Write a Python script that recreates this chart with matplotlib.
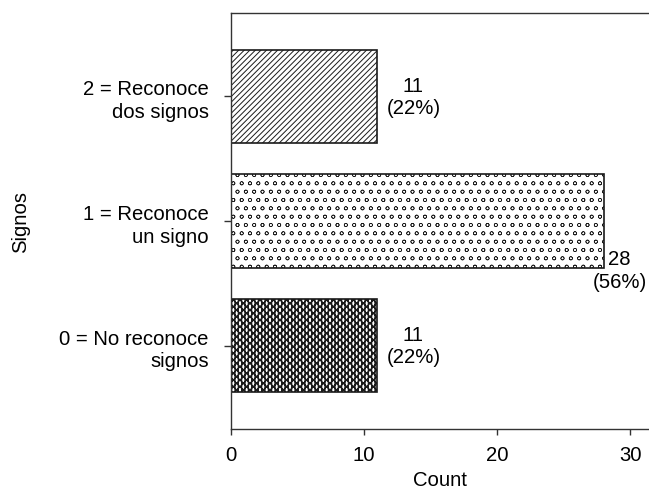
import matplotlib
matplotlib.use("Agg")
import matplotlib.pyplot as plt

categories = ["0 = No reconoce\nsignos", "1 = Reconoce\nun signo", "2 = Reconoce\ndos signos"]
counts = [11, 28, 11]
percents = ["22%", "56%", "22%"]
xticks = [0, 10, 20, 30]

plt.rcParams['font.family'] = ['Liberation Sans', 'DejaVu Sans']

fig = plt.figure(figsize=(6.49, 4.89), dpi=100)
ax = fig.add_axes([231/649, 1-430/489, 1-231/649, (430-14)/489])

hatches = ['xxxxx|||||', 'oo', '//////']
hatch_lw = [0.9, 0.45, 0.7]
ypos = list(range(len(categories)))
bars = []
for y, c, h, lw in zip(ypos, counts, hatches, hatch_lw):
    with plt.rc_context({'hatch.linewidth': lw}):
        b = ax.barh(y, c, height=0.75, color='white', edgecolor='#1a1a1a',
                    linewidth=1.2, hatch=h)[0]
    if hasattr(b, 'set_hatch_linewidth'):
        b.set_hatch_linewidth(lw)
    bars.append(b)

offsets = [(36, 0), (16, -49), (36, 0)]
for y, c, p, off in zip(ypos, counts, percents, offsets):
    ax.annotate(f"{c}\n({p})", xy=(c, y), xytext=off, textcoords='offset pixels',
                ha='center', va='center', fontsize=14.6, multialignment='center',
                linespacing=1.25, annotation_clip=False)

ax.set_xlim(0, 31.4)
ax.set_ylim(-0.67, 2.67)
ax.set_yticks(ypos)
ax.set_yticklabels(categories, fontsize=14.6, linespacing=1.25, ha='right')
ax.set_xticks(xticks)
ax.set_xticklabels([str(t) for t in xticks], fontsize=14.6)
ax.set_xlabel("Count", fontsize=14.6, labelpad=4)
ax.set_ylabel("Signos", fontsize=14.6, labelpad=21)

for s in ['left', 'top', 'bottom']:
    ax.spines[s].set_color('#333333')
    ax.spines[s].set_linewidth(1.0)
ax.spines['right'].set_visible(False)
ax.tick_params(axis='y', direction='out', length=5, width=1.0, color='#333333', pad=11)
ax.tick_params(axis='x', direction='out', length=4.5, width=1.0, color='#333333', pad=7)
for t in ax.get_yticklabels():
    t.set_multialignment('right')

fig.savefig("out.png", dpi=100)
